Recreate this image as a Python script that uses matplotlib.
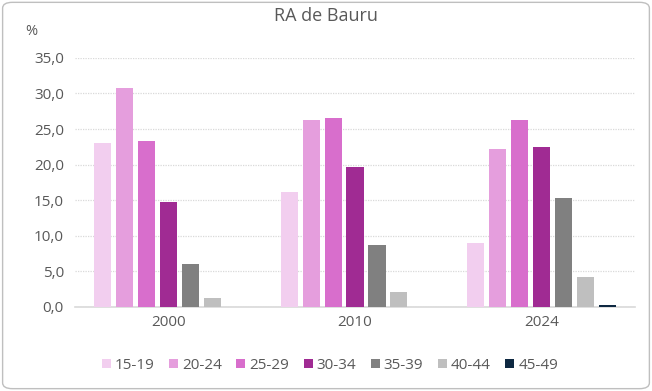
import numpy as np
import matplotlib.pyplot as plt
from matplotlib.patches import FancyBboxPatch
from matplotlib.ticker import FuncFormatter

years = ['2000', '2010', '2024']
age_groups = ['15-19', '20-24', '25-29', '30-34', '35-39', '40-44', '45-49']
v2000 = [23.0, 30.8, 23.3, 14.7, 6.1, 1.3, 0.0]
v2010 = [16.1, 26.2, 26.6, 19.6, 8.7, 2.1, 0.0]
v2024 = [9.0, 22.2, 26.2, 22.5, 15.3, 4.2, 0.3]
colors = ['#F2CEEF', '#E59EDD', '#D86ECC', '#A02B93', '#808080', '#BFBFBF', '#0E2841']

plt.rcParams['font.family'] = ['Open Sans', 'DejaVu Sans']
text_col = '#595959'

values = np.array([v2000, v2010, v2024])

fig = plt.figure(figsize=(6.52, 3.91), dpi=100)
ax = fig.add_axes([0.115, 0.215, 0.859, 0.637])

x = np.arange(len(years))
step = 0.1176
width = 0.0915
for i, age in enumerate(age_groups):
    offs = (i - 3) * step
    ax.bar(x + offs, values[:, i], width=width, color=colors[i], label=age, zorder=3)

ax.set_xlim(-0.5, 2.5)
ax.set_ylim(0, 35)
ax.set_yticks(np.arange(0, 36, 5))
ax.yaxis.set_major_formatter(FuncFormatter(lambda v, p: '{:.1f}'.format(v).replace('.', ',')))
ax.set_xticks(x)
ax.set_xticklabels(years)
ax.tick_params(axis='both', length=0, labelsize=11, colors=text_col, pad=6)
ax.tick_params(axis='y', pad=8)

ax.grid(axis='y', color='#D9D9D9', linestyle=(0, (1, 1)), linewidth=0.9, zorder=0)
for s in ['top', 'right', 'left']:
    ax.spines[s].set_visible(False)
ax.spines['bottom'].set_color('#D9D9D9')
ax.spines['bottom'].set_linewidth(1.2)

fig.text(0.5, 0.958, 'RA de Bauru', ha='center', va='center', fontsize=13, color=text_col)
fig.text(0.048, 0.92, '%', ha='center', va='center', fontsize=10.5, color=text_col)

ax.legend(loc='center', bbox_to_anchor=(0.455, -0.235), ncol=7, frameon=False,
          fontsize=11, labelcolor=text_col, handlelength=0.6, handleheight=0.6,
          handletextpad=0.25, columnspacing=0.95)

border = FancyBboxPatch((0.004, 0.006), 0.992, 0.988, boxstyle='round,pad=0,rounding_size=0.015',
                        transform=fig.transFigure, facecolor='none', edgecolor='#BFBFBF',
                        linewidth=1.0)
fig.patches.append(border)

fig.savefig('out.png', dpi=100)
